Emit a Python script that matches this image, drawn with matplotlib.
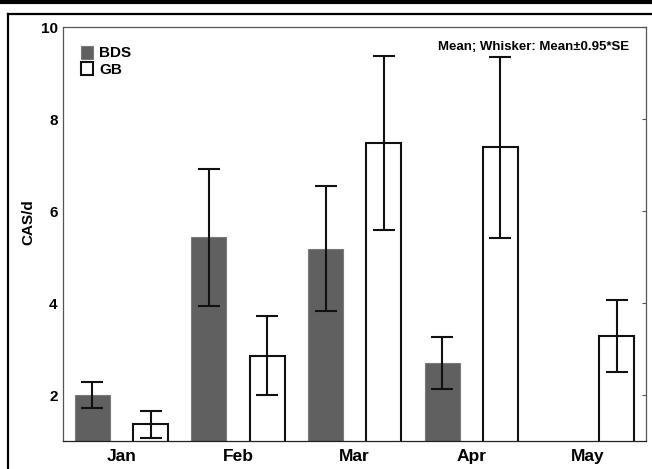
import matplotlib
matplotlib.use("Agg")
import matplotlib.pyplot as plt
from matplotlib.lines import Line2D
import numpy as np

months = ["Jan", "Feb", "Mar", "Apr", "May"]
bds_mean = [2.00, 5.43, 5.18, 2.70, np.nan]
bds_low = [1.71, 3.94, 3.83, 2.12, np.nan]
bds_high = [2.28, 6.91, 6.54, 3.27, np.nan]
gb_mean = [1.36, 2.84, 7.47, 7.39, 3.28]
gb_low = [1.07, 2.00, 5.58, 5.42, 2.50]
gb_high = [1.66, 3.71, 9.38, 9.35, 4.07]
yticks = [2, 4, 6, 8, 10]

plt.rcParams['font.family'] = ['Liberation Sans', 'DejaVu Sans']
plt.rcParams['font.weight'] = 'bold'

fig = plt.figure(figsize=(6.52, 4.69), dpi=100)
ax = fig.add_axes([63.3/652, 1-441/469, (646-63.3)/652, (441-27)/469])

x = np.arange(len(months))
w = 0.3
bm = np.array(bds_mean); gm = np.array(gb_mean)
bds_err = np.vstack([bm - np.array(bds_low), np.array(bds_high) - bm])
gb_err = np.vstack([gm - np.array(gb_low), np.array(gb_high) - gm])
ekw = dict(ecolor='#111111', elinewidth=1.5, capsize=7.8, capthick=1.5)
mask = ~np.isnan(bm)
b1 = ax.bar(x[mask] - 0.25, bm[mask], w, bottom=0, color='#606060', edgecolor='#7a7a7a',
            linewidth=0.8, yerr=bds_err[:, mask], error_kw=ekw, label='BDS', zorder=2)
b2 = ax.bar(x + 0.25, gm, w, bottom=0, color='white', edgecolor='#111111',
            linewidth=1.5, yerr=gb_err, error_kw=ekw, label='GB', zorder=2)

ax.set_xlim(-0.5, 4.5)
ax.set_ylim(1, 10)
ax.set_yticks(yticks)
ax.set_yticklabels([str(t) for t in yticks], fontsize=11, fontweight='bold')
ax.set_xticks(x)
ax.set_xticklabels(months, fontsize=12.5, fontweight='bold')
ax.tick_params(axis='x', length=0, pad=6)
ax.tick_params(axis='y', left=False, right=True, direction='in', length=3,
               pad=4, color='#555555')
for s in ax.spines.values():
    s.set_color('#555555')
    s.set_linewidth(0.9)
ax.spines['bottom'].set_color('#222222')

leg = ax.legend(handles=[b1, b2], loc='upper left', bbox_to_anchor=(0.030, 0.955),
                frameon=False, prop={'weight': 'bold', 'size': 11},
                handlelength=0.82, handleheight=0.92, handletextpad=0.4,
                labelspacing=0.12, borderpad=0, borderaxespad=0)

ax.text(0.971, 0.951, "Mean; Whisker: Mean\u00b10.95*SE", transform=ax.transAxes,
        ha='right', va='center', fontsize=9.5, fontweight='bold')

fig.text(28/652, 1-222/469, "CAS/d", rotation=90, ha='center', va='center',
         fontsize=11, fontweight='bold')

# outer frame
fig.add_artist(Line2D([0, 1], [1-2/469, 1-2/469], transform=fig.transFigure,
                      color='black', linewidth=3.0))
fig.add_artist(Line2D([7.7/652, 1], [1-14.3/469, 1-14.3/469], transform=fig.transFigure,
                      color='black', linewidth=1.6, solid_capstyle='projecting'))
fig.add_artist(Line2D([7.7/652, 7.7/652], [1-14.3/469, 0], transform=fig.transFigure,
                      color='black', linewidth=1.6, solid_capstyle='projecting'))

fig.savefig("out.png", dpi=100)
